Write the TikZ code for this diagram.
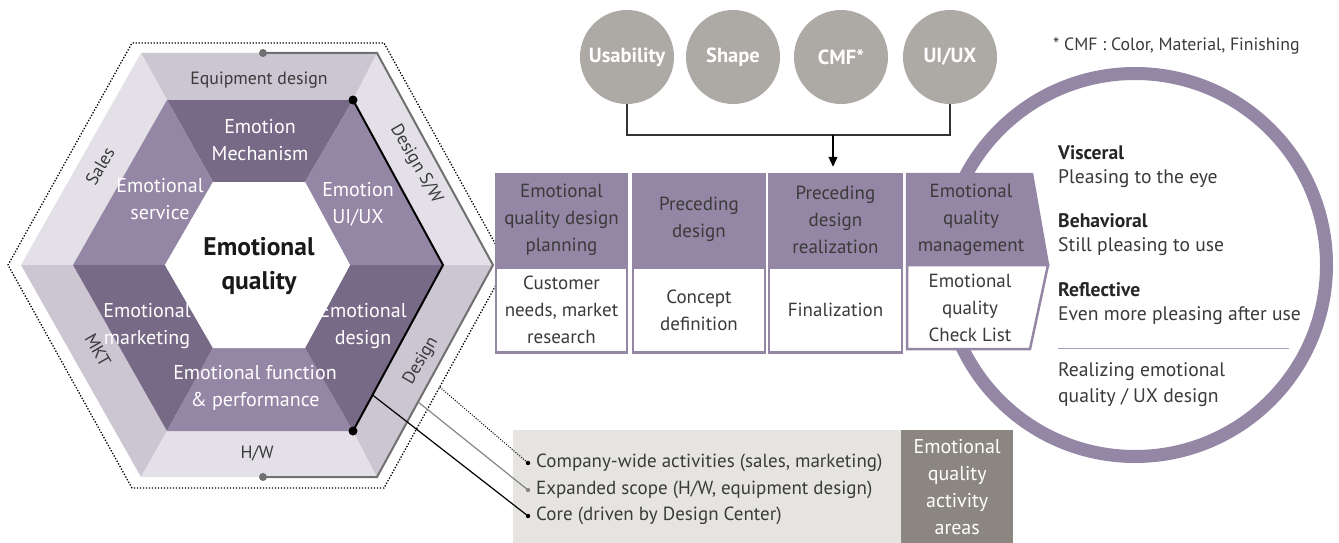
\documentclass[tikz,border=0pt]{standalone}
\usepackage{fontspec}
\setmainfont{PT Sans}
\usetikzlibrary{arrows.meta,calc}
\definecolor{pD}{HTML}{776A87}
\definecolor{pL}{HTML}{9487A5}
\definecolor{gM}{HTML}{CBC6D2}
\definecolor{gL}{HTML}{E3E0E7}
\definecolor{cG}{HTML}{ADA9A5}
\definecolor{lgB}{HTML}{E6E4E1}
\definecolor{lgD}{HTML}{8B8680}
\definecolor{txt}{HTML}{3A3A3A}
\definecolor{lnG}{HTML}{707070}
\begin{document}
\begin{tikzpicture}[x=1pt,y=1pt,
  wtxt/.style={text=white,align=center,font=\fontsize{20}{27}\selectfont,inner sep=0},
  otxt/.style={text=txt,font=\fontsize{17.8}{20}\selectfont,inner sep=0},
  ctxt/.style={text=white,font=\bfseries\fontsize{20.5}{22}\selectfont},
  topc/.style={circle,fill=cG,minimum size=94,inner sep=0,ctxt},
  hdr/.style={fill=pL,draw=pL,line width=2.5,text=txt,align=center,font=\fontsize{19}{27}\selectfont,inner sep=0},
  bdy/.style={fill=white,draw=pL,line width=2.5,text=txt,align=center,font=\fontsize{19}{27}\selectfont,inner sep=0},
  ltxt/.style={text=txt,anchor=west,font=\fontsize{19}{20}\selectfont,inner sep=0},
  rtxt/.style={text=txt,anchor=west,font=\fontsize{19.6}{22}\selectfont,inner sep=0},
  rbold/.style={text=black!85,anchor=west,font=\bfseries\fontsize{19.6}{22}\selectfont,inner sep=0},
]
\useasboundingbox (0,0) rectangle (1339,-543);
% hexagon coordinates
\coordinate (O0) at (493,-265); \coordinate (O1) at (377,-53); \coordinate (O2) at (141,-53);
\coordinate (O3) at (21,-265); \coordinate (O4) at (141,-477); \coordinate (O5) at (377,-477);
\coordinate (P0) at (443,-265); \coordinate (P1) at (353,-100); \coordinate (P2) at (167,-100);
\coordinate (P3) at (73,-265); \coordinate (P4) at (167,-431); \coordinate (P5) at (353,-431);
\coordinate (W0) at (350,-265); \coordinate (W1) at (305,-182); \coordinate (W2) at (213,-182);
\coordinate (W3) at (165,-265); \coordinate (W4) at (213,-348); \coordinate (W5) at (305,-348);
\coordinate (D0) at (507,-265); \coordinate (D1) at (384,-43); \coordinate (D2) at (132,-43);
\coordinate (D3) at (8,-265); \coordinate (D4) at (132,-488); \coordinate (D5) at (384,-488);
% dotted outline
\draw[line width=1.3,dash pattern=on 1.3pt off 1.7pt] (D0)--(D1)--(D2)--(D3)--(D4)--(D5)--cycle;
% outer ring
\fill[gM] (O1)--(O2)--(P2)--(P1)--cycle;
\fill[gL] (O2)--(O3)--(P3)--(P2)--cycle;
\fill[gM] (O3)--(O4)--(P4)--(P3)--cycle;
\fill[gL] (O4)--(O5)--(P5)--(P4)--cycle;
\fill[gM] (O5)--(O0)--(P0)--(P5)--cycle;
\fill[gL] (O0)--(O1)--(P1)--(P0)--cycle;
% inner ring
\fill[pD] (P1)--(P2)--(W2)--(W1)--cycle;
\fill[pL] (P2)--(P3)--(W3)--(W2)--cycle;
\fill[pD] (P3)--(P4)--(W4)--(W3)--cycle;
\fill[pL] (P4)--(P5)--(W5)--(W4)--cycle;
\fill[pD] (P5)--(P0)--(W0)--(W5)--cycle;
\fill[pL] (P0)--(P1)--(W1)--(W0)--cycle;
\fill[white] (W0)--(W1)--(W2)--(W3)--(W4)--(W5)--cycle;
% scope lines
\coordinate (gs) at (263,-53); \coordinate (ge) at (263,-477);
\draw[lnG,line width=2] (gs)--(O1)--(O0)--(O5)--(ge);
\fill[lnG] (gs) circle (4); \fill[lnG] (ge) circle (4);
\draw[black,line width=2] (P1)--(P0)--(P5);
\fill (P1) circle (4.5); \fill (P5) circle (4.5);
% labels
\node[otxt] (leq) at (259,-80) {Equipment design};
\node[otxt,rotate=60] (lsa) at (100,-166) {Sales};
\node[otxt,rotate=-60] (lsw) at (416,-164) {Design S/W};
\node[otxt,rotate=-60] (lmk) at (98,-350) {MKT};
\node[otxt,rotate=60] (lde) at (421,-361) {Design};
\node[otxt] (lhw) at (257,-453) {H/W};
\node[wtxt] (emech) at (260,-140) {Emotion\\Mechanism};
\node[wtxt] (eserv) at (160,-199) {Emotional\\service};
\node[wtxt] (eui) at (358,-204) {Emotion\\UI/UX};
\node[wtxt] (emkt) at (147,-326) {Emotional\\marketing};
\node[wtxt] (edes) at (363,-326) {Emotional\\design};
\node[wtxt] (efun) at (255,-388) {Emotional function\\\& performance};
\node[align=center,font=\bfseries\fontsize{25.5}{34}\selectfont,text=black!90,inner sep=0] (eq) at (259,-266) {Emotional\\quality};
% legend
\fill[lgB] (513,-430) rectangle (901,-543);
\node[fill=lgD,minimum width=112,minimum height=113,inner sep=0,anchor=north west,text=white,align=center,font=\fontsize{20}{27}\selectfont] (area) at (901,-430) {Emotional\\quality\\activity\\areas};
\coordinate (b1) at (528,-463); \coordinate (b2) at (528,-490); \coordinate (b3) at (528,-516);
\node[ltxt] (l1) at (536,-463) {Company-wide activities (sales, marketing)};
\node[ltxt] (l2) at (536,-490) {Expanded scope (H/W, equipment design)};
\node[ltxt] (l3) at (536,-516) {Core (driven by Design Center)};
\coordinate (s1) at ($(D0)!0.547!(D5)$);
\coordinate (s2) at ($(O0)!0.646!(O5)$);
\coordinate (s3) at ($(P0)!0.783!(P5)$);
\draw[line width=1,dash pattern=on 1pt off 1.5pt] (s1)--(b1);
\draw[lnG!85,line width=1.2] (s2)--(b2);
\draw[black,line width=1.2] (s3)--(b3);
\fill (b1) circle (2.2); \fill[lnG!85] (b2) circle (2.2); \fill (b3) circle (2.2);
% top circles
\node[topc] (cu) at (627,-57) {Usability};
\node[topc] (cs) at (733,-57) {Shape};
\node[topc] (cc) at (841,-57) {CMF*};
\node[topc] (cx) at (950,-57) {UI/UX};
\coordinate (jn) at (833,-135);
\draw[black!80,line width=1.2] (cu.south) |- (jn) -| (cx.south);
% big circle
\node[circle,draw=pL,line width=13,fill=white,minimum size=383,inner sep=0] (big) at (1135,-265) {};
% process boxes
\node[hdr,minimum width=131,minimum height=91] (h1) at (561.5,-219.5) {Emotional\\quality design\\planning};
\node[bdy,minimum width=131,minimum height=85,anchor=north] (d1) at (h1.south) {Customer\\needs, market\\research};
\node[hdr,minimum width=132,minimum height=91] (h2) at (699,-219.5) {Preceding\\design};
\node[bdy,minimum width=132,minimum height=85,anchor=north] (d2) at (h2.south) {Concept\\definition};
\node[hdr,minimum width=133,minimum height=91] (h3) at (835.5,-219.5) {Preceding\\design\\realization};
\node[bdy,minimum width=133,minimum height=85,anchor=north] (d3) at (h3.south) {Finalization};
\draw[-{Triangle[length=10,width=9]},black,line width=1.2] (jn) -- ($(h3.north -| jn)+(0,6)$);
% box 4
\draw[fill=pL,draw=pL,line width=2.5,line join=miter] (907,-174)--(1032,-174)--(1048,-265)--(907,-265)--cycle;
\draw[fill=white,draw=pL,line width=2.5,line join=miter] (907,-265)--(1048,-265)--(1030,-349)--(907,-349)--cycle;
\node[text=txt,align=center,font=\fontsize{19}{27}\selectfont,inner sep=0] (h4) at (971,-220) {Emotional\\quality\\management};
\node[text=txt,align=center,font=\fontsize{19}{27}\selectfont,inner sep=0] (d4) at (970,-308) {Emotional\\quality\\Check List};
% circle text
\node[text=txt,anchor=west,font=\fontsize{17.8}{20}\selectfont,inner sep=0] (cmf) at (1053,-46) {* CMF : Color, Material, Finishing};
\node[rbold] (v1) at (1058,-153) {Visceral};
\node[rtxt] (v2) at (1058,-179) {Pleasing to the eye};
\node[rbold] (b1t) at (1058,-221) {Behavioral};
\node[rtxt] (b2t) at (1058,-247) {Still pleasing to use};
\node[rbold] (r1) at (1058,-290) {Reflective};
\node[rtxt] (r2) at (1058,-316) {Even more pleasing after use};
\coordinate (sepa) at (1058,-348); \coordinate (sepb) at (1289,-348);
\draw[pL!80,line width=0.8] (sepa)--(sepb);
\node[rtxt] (q1) at (1058,-372) {Realizing emotional};
\node[rtxt] (q2) at (1058,-398) {quality / UX design};
\end{tikzpicture}
\end{document}
